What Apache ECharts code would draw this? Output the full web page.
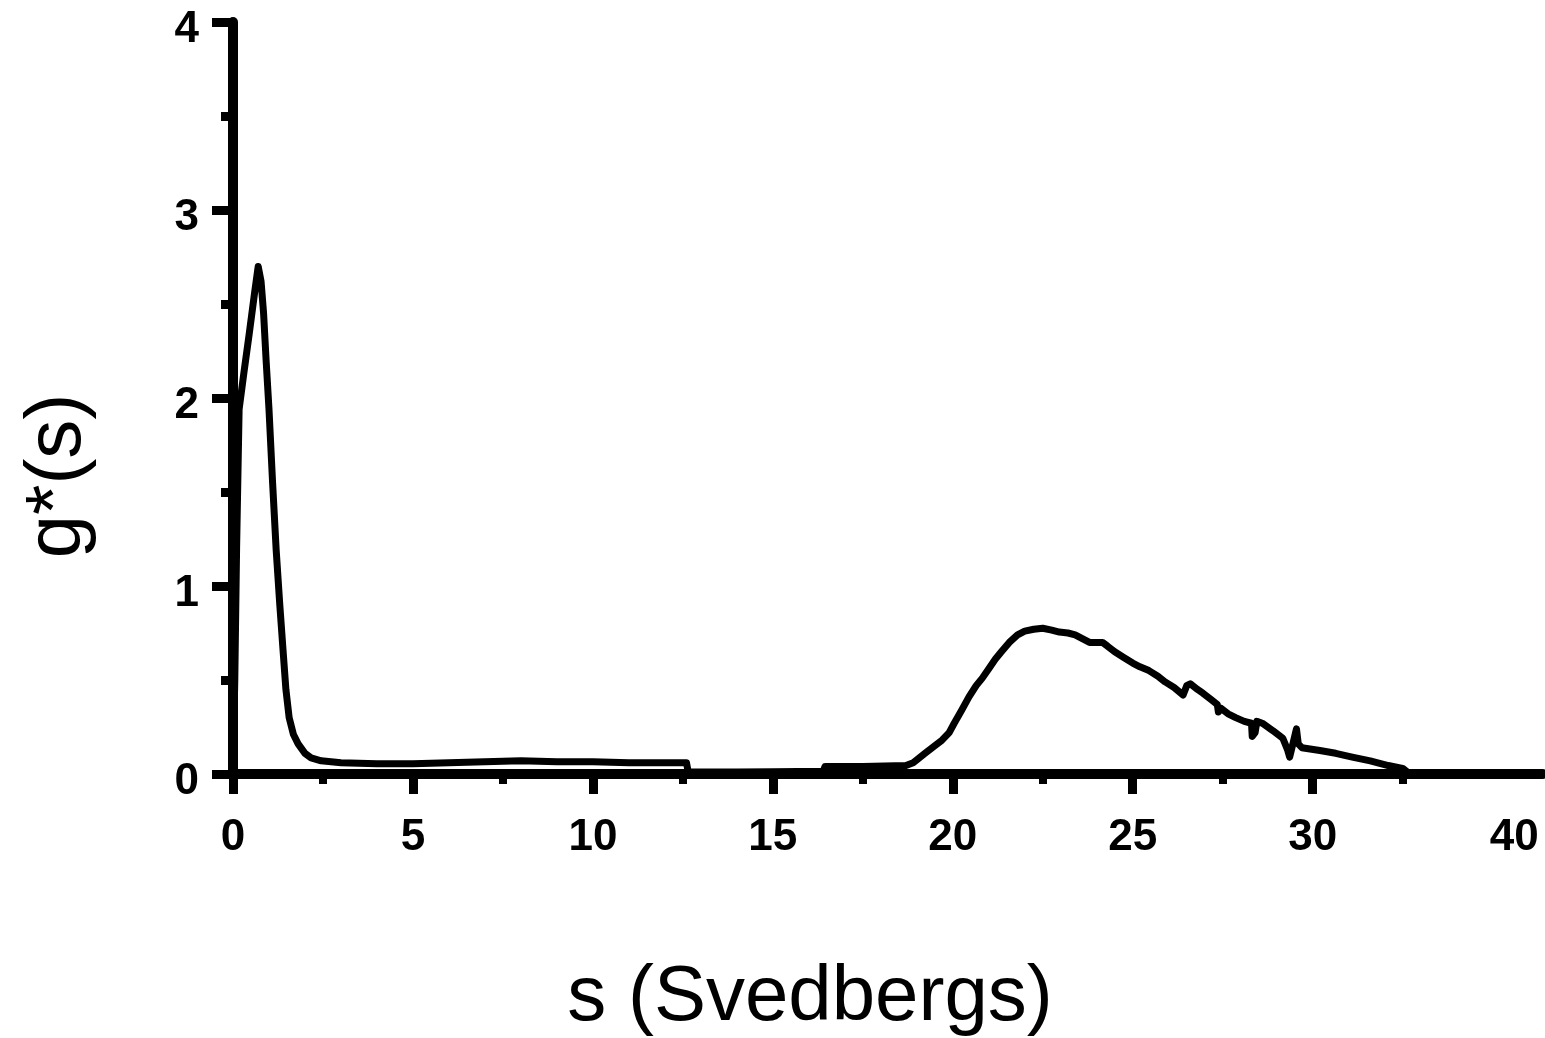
<!DOCTYPE html>
<html>
<head>
<meta charset="utf-8">
<script src="https://cdn.jsdelivr.net/npm/echarts@6/dist/echarts.min.js"></script>
<style>
  html, body { margin: 0; padding: 0; background: #fff; }
  #chart { width: 1545px; height: 1038px; }
</style>
</head>
<body>
<div id="chart"></div>
<script>
  // s (Svedbergs) , g*(s)
  var sValues = [0, 0.05, 0.1, 0.17, 0.3, 0.45, 0.6, 0.7, 0.78, 0.85, 0.92, 1.0, 1.1, 1.2, 1.3, 1.39, 1.47, 1.56, 1.68, 1.81, 2.0, 2.17, 2.45,
    3, 4, 5, 6, 7, 8, 9, 10, 11, 12, 12.6, 12.65, 14, 15, 16.4, 16.45, 17.5, 18.7,
    18.9, 19.23, 19.5, 19.7, 19.9, 20.04, 20.25, 20.45, 20.65, 20.82, 21.0, 21.18, 21.35, 21.57, 21.8, 22.0, 22.25, 22.5, 22.75, 22.96,
    23.2, 23.4, 23.6, 23.8, 24.16, 24.3, 24.5, 24.75, 25.0, 25.2, 25.45, 25.7, 25.9, 26.15, 26.4, 26.5, 26.6, 26.8, 26.95,
    27.15, 27.35, 27.38, 27.45, 27.65, 27.86, 28.1, 28.3, 28.32, 28.4, 28.45, 28.6, 28.9, 29.17, 29.3, 29.36, 29.45, 29.55, 29.6, 29.7,
    30.2, 30.64, 31.1, 31.6, 32.1, 32.5, 32.7, 36.4]
  var gValues = [0.05, 0.5, 1.2, 1.94, 2.13, 2.34, 2.56, 2.7, 2.62, 2.45, 2.2, 1.94, 1.55, 1.19, 0.9, 0.66, 0.45, 0.3, 0.21, 0.16, 0.11, 0.086, 0.07,
    0.06, 0.055, 0.055, 0.06, 0.065, 0.07, 0.065, 0.065, 0.06, 0.06, 0.06, 0.01, 0.01, 0.012, 0.015, 0.04, 0.04, 0.045,
    0.06, 0.11, 0.15, 0.18, 0.22, 0.27, 0.34, 0.41, 0.47, 0.51, 0.56, 0.61, 0.65, 0.70, 0.74, 0.76, 0.77, 0.775, 0.765, 0.755,
    0.75, 0.74, 0.72, 0.70, 0.70, 0.68, 0.65, 0.62, 0.59, 0.57, 0.55, 0.52, 0.49, 0.46, 0.42, 0.47, 0.48, 0.45, 0.43,
    0.40, 0.37, 0.33, 0.35, 0.32, 0.30, 0.28, 0.27, 0.20, 0.22, 0.28, 0.27, 0.23, 0.19, 0.13, 0.09, 0.16, 0.24, 0.16, 0.14,
    0.125, 0.11, 0.09, 0.07, 0.045, 0.03, 0.0, 0.0]

  var xMajorTicks = [0, 5, 10, 15, 20, 25, 30]
  var xMinorTicks = [2.5, 7.5, 12.5, 17.5, 22.5, 27.5, 32.5]
  var xLabelPos = [0, 5, 10, 15, 20, 25, 30, 35.6]
  var xLabelText = ['0', '5', '10', '15', '20', '25', '30', '40']
  var yMajorTicks = [0, 1, 2, 3, 4]
  var yMinorTicks = [0.5, 1.5, 2.5, 3.5]

  var curve = sValues.map(function (s, i) { return [s, gValues[i]] })

  var labelFont = { color: '#000', fontFamily: 'Liberation Sans', fontWeight: 'bold', fontSize: 44 }
  var nameFont = { color: '#000', fontFamily: 'Liberation Sans', fontSize: 78 }

  var myChart = echarts.init(document.getElementById('chart'))
  myChart.setOption({
    animation: false,
    grid: { left: 233, right: 2, top: 22, bottom: 264, outerBoundsMode: 'none', containLabel: false },
    xAxis: [
      {
        type: 'value', min: 0, max: 36.4,
        name: 's (Svedbergs)', nameLocation: 'middle', nameGap: 224,
        nameTextStyle: Object.assign({ verticalAlign: 'middle', padding: [0, 156, 0, 0] }, nameFont),
        splitLine: { show: false },
        axisLine: { onZero: false, lineStyle: { color: '#000', width: 10 } },
        axisTick: { customValues: xMajorTicks, length: 20, lineStyle: { color: '#000', width: 9 } },
        axisLabel: Object.assign({
          customValues: xLabelPos, margin: 42,
          formatter: function (v) {
            var i = xLabelPos.indexOf(v)
            return i >= 0 ? xLabelText[i] : ''
          }
        }, labelFont)
      },
      {
        type: 'value', min: 0, max: 36.4, position: 'bottom',
        splitLine: { show: false },
        axisLine: { show: false },
        axisLabel: { show: false },
        axisTick: { customValues: xMinorTicks, length: 10, lineStyle: { color: '#000', width: 8 } }
      }
    ],
    yAxis: [
      {
        type: 'value', min: 0, max: 4,
        name: 'g*(s)', nameLocation: 'middle', nameGap: 175, nameRotate: 90,
        nameTextStyle: Object.assign({ verticalAlign: 'middle', padding: [0, 156, 0, 0] }, nameFont),
        splitLine: { show: false },
        axisLine: { onZero: false, lineStyle: { color: '#000', width: 10 } },
        axisTick: { customValues: yMajorTicks, length: 21, lineStyle: { color: '#000', width: 9 } },
        axisLabel: Object.assign({ customValues: yMajorTicks, margin: 34, verticalAlign: 'top', lineHeight: 16 }, labelFont)
      },
      {
        type: 'value', min: 0, max: 4, position: 'left',
        splitLine: { show: false },
        axisLine: { show: false },
        axisLabel: { show: false },
        axisTick: { customValues: yMinorTicks, length: 12, lineStyle: { color: '#000', width: 9 } }
      }
    ],
    series: [
      {
        type: 'line',
        data: curve,
        showSymbol: false,
        smooth: false,
        lineStyle: { color: '#000', width: 7, join: 'round' }
      }
    ]
  })
</script>
</body>
</html>
